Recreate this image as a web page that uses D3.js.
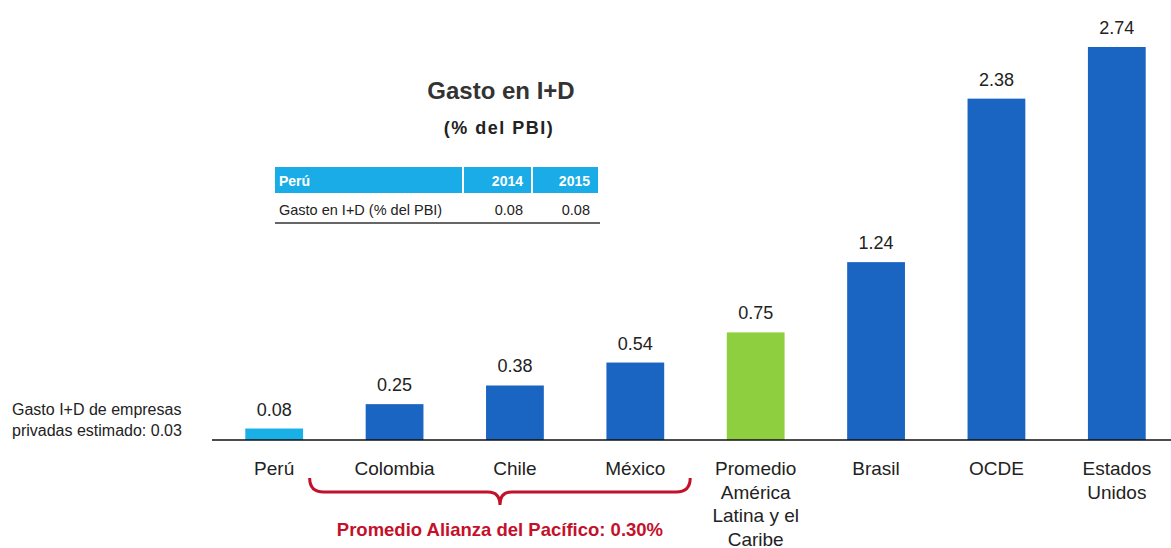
<!DOCTYPE html>
<html>
<head>
<meta charset="utf-8">
<script src="https://cdn.jsdelivr.net/npm/d3@7"></script>
<style>
  body { margin: 0; background: #fff; }
  svg { font-family: Arial, "Liberation Sans", sans-serif; display: block; }
</style>
</head>
<body>
<svg width="1171" height="548"></svg>
<script>
var categories = ["Perú", "Colombia", "Chile", "México", "Promedio América Latina y el Caribe", "Brasil", "OCDE", "Estados Unidos"];
var labelLines = [["Perú"], ["Colombia"], ["Chile"], ["México"], ["Promedio", "América", "Latina y el", "Caribe"], ["Brasil"], ["OCDE"], ["Estados", "Unidos"]];
var values = [0.08, 0.25, 0.38, 0.54, 0.75, 1.24, 2.38, 2.74];
var tableHeader = ["Perú", "2014", "2015"];
var tableRow = ["Gasto en I+D (% del PBI)", "0.08", "0.08"];
var pacificGroup = ["Colombia", "México"];

var svg = d3.select("svg"),
    width = +svg.attr("width"),
    height = +svg.attr("height");

var baseY = 440;

var x = d3.scaleBand()
    .domain(categories)
    .range([214, 1177])
    .paddingInner(0.52)
    .paddingOuter(0.26);

var y = d3.scaleLinear()
    .domain([0, 2.74])
    .range([baseY, 47]);

function barColor(d, i) {
  if (i == 0) return "#19b0e8";
  if (i == 4) return "#8dcf3f";
  return "#1a64c2";
}

var bars = svg.append("g");

bars.selectAll("rect")
  .data(values)
  .enter().append("rect")
    .attr("x", function(d, i) { return x(categories[i]); })
    .attr("y", function(d) { return y(d); })
    .attr("width", x.bandwidth())
    .attr("height", function(d) { return baseY - y(d); })
    .attr("fill", barColor);

bars.selectAll("text.val")
  .data(values)
  .enter().append("text")
    .attr("class", "val")
    .attr("x", function(d, i) { return x(categories[i]) + x.bandwidth() / 2; })
    .attr("y", function(d) { return y(d) - 13; })
    .attr("text-anchor", "middle")
    .style("font-size", "18px")
    .style("fill", "#222")
    .text(function(d) { return d.toFixed(2); });

// baseline
svg.append("line")
    .attr("x1", 212).attr("x2", width)
    .attr("y1", baseY).attr("y2", baseY)
    .attr("stroke", "#111")
    .attr("stroke-width", 1.5);

// category labels
var labels = svg.append("g");
labelLines.forEach(function(lines, i) {
  var t = labels.append("text")
      .attr("x", x(categories[i]) + x.bandwidth() / 2)
      .attr("y", 475)
      .attr("text-anchor", "middle")
      .style("font-size", "19px")
      .style("fill", "#222");
  lines.forEach(function(l, j) {
    t.append("tspan")
      .attr("x", x(categories[i]) + x.bandwidth() / 2)
      .attr("dy", j == 0 ? 0 : 23.5)
      .text(l);
  });
});

// left note
svg.append("text")
    .attr("x", 12).attr("y", 415)
    .style("font-size", "16px").style("fill", "#222")
    .text("Gasto I+D de empresas");
svg.append("text")
    .attr("x", 12).attr("y", 436)
    .style("font-size", "16px").style("fill", "#222")
    .text("privadas estimado: 0.03");

// brace under Pacific alliance
var bx1 = x(pacificGroup[0]) - 56,
    bx2 = x(pacificGroup[1]) + x.bandwidth() + 26,
    bm = (bx1 + bx2) / 2,
    by = 478;
svg.append("path")
    .attr("d", "M" + bx1 + "," + by +
      " Q" + bx1 + "," + (by + 14) + " " + (bx1 + 14) + "," + (by + 14) +
      " L" + (bm - 12) + "," + (by + 14) +
      " Q" + bm + "," + (by + 14) + " " + bm + "," + (by + 27) +
      " Q" + bm + "," + (by + 14) + " " + (bm + 12) + "," + (by + 14) +
      " L" + (bx2 - 14) + "," + (by + 14) +
      " Q" + bx2 + "," + (by + 14) + " " + bx2 + "," + by)
    .attr("fill", "none")
    .attr("stroke", "#c4112b")
    .attr("stroke-width", 3);

svg.append("text")
    .attr("x", bm).attr("y", 536)
    .attr("text-anchor", "middle")
    .style("font-size", "18.5px").style("font-weight", "bold")
    .style("fill", "#c4112b")
    .text("Promedio Alianza del Pacífico: 0.30%");

// title
svg.append("text")
    .attr("x", 501).attr("y", 99)
    .attr("text-anchor", "middle")
    .style("font-size", "24px").style("font-weight", "bold")
    .style("fill", "#333")
    .text("Gasto en I+D");
svg.append("text")
    .attr("x", 499).attr("y", 134)
    .attr("text-anchor", "middle")
    .style("font-size", "18px").style("font-weight", "bold")
    .style("letter-spacing", "1.5px")
    .style("fill", "#222")
    .text("(% del PBI)");

// small table
var colX = [275, 464, 533, 600];
var tbl = svg.append("g");
tableHeader.forEach(function(h, i) {
  tbl.append("rect")
    .attr("x", colX[i]).attr("y", 167)
    .attr("width", colX[i + 1] - colX[i] - 2).attr("height", 26)
    .attr("fill", "#1aace6");
  tbl.append("text")
    .attr("x", i == 0 ? colX[i] + 4 : colX[i + 1] - 10)
    .attr("y", 186)
    .attr("text-anchor", i == 0 ? "start" : "end")
    .style("font-size", "14px").style("font-weight", "bold")
    .style("fill", "#fff")
    .text(h);
});
tableRow.forEach(function(v, i) {
  tbl.append("text")
    .attr("x", i == 0 ? colX[i] + 4 : colX[i + 1] - 10)
    .attr("y", 215)
    .attr("text-anchor", i == 0 ? "start" : "end")
    .style("font-size", "14.5px")
    .style("fill", "#222")
    .text(v);
});
tbl.append("line")
    .attr("x1", 275).attr("x2", 600)
    .attr("y1", 223).attr("y2", 223)
    .attr("stroke", "#333").attr("stroke-width", 1.5);
</script>
</body>
</html>
